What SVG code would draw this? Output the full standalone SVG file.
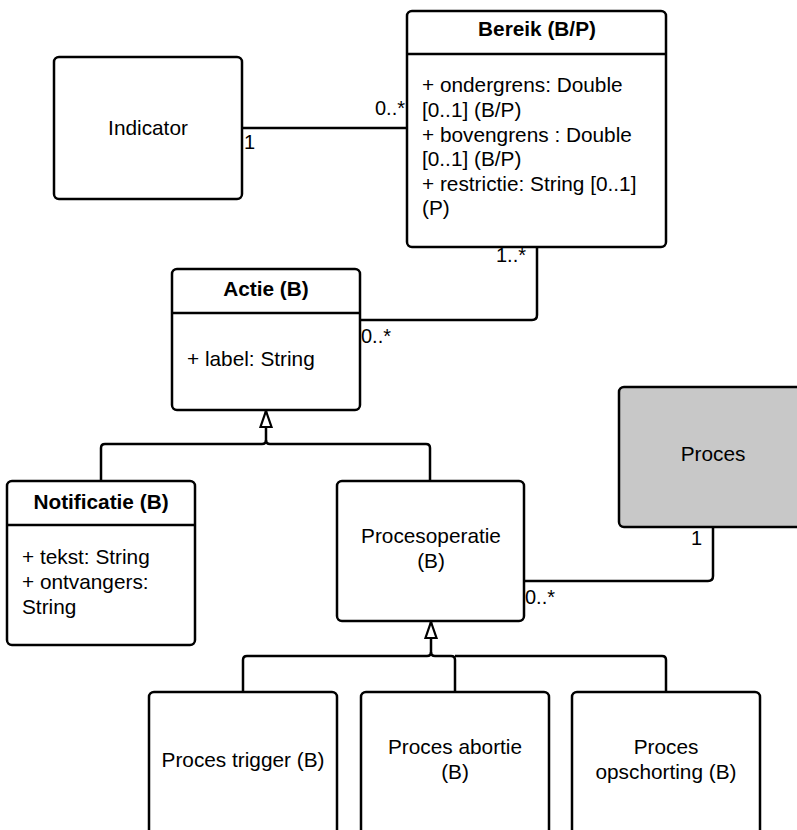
<svg xmlns="http://www.w3.org/2000/svg" width="797" height="830" viewBox="0 0 797 830">
  <style>
    .box { fill: #ffffff; stroke: #000000; stroke-width: 2.5; }
    .shaded { fill: #c8c8c8; }
    .div { stroke: #000000; stroke-width: 2.5; }
    .edge { fill: none; stroke: #000000; stroke-width: 2.5; stroke-linejoin: round; }
    .tri { fill: #ffffff; stroke: #000000; stroke-width: 2.2; }
    text { font-family: "Liberation Sans", Arial, sans-serif; font-size: 20.8px; fill: #000000; }
    .title { font-weight: bold; text-anchor: middle; }
    .c { text-anchor: middle; }
    .lbl { font-size: 20px; }
  </style>

  <!-- associations and generalizations -->
  <g id="connectors">
    <path class="edge" d="M242,128 H407"/>
    <path class="edge" d="M360,320 H532 Q537,320 537,315 V247"/>
    <path class="edge" d="M524,581 H708 Q713,581 713,576 V527"/>
    <path class="edge" d="M266,411 V440 Q266,444 262,444 H105 Q101,444 101,448 V481"/>
    <path class="edge" d="M266,440 Q266,444 270,444 H426 Q430,444 430,448 V481"/>
    <path class="tri" d="M266,411 L271.5,427 L260.5,427 Z"/>
    <path class="edge" d="M431,622 V652 Q431,656 427,656 H247 Q243,656 243,660 V692"/>
    <path class="edge" d="M431,652 Q431,656 435,656 H451 Q455,656 455,660 V692"/>
    <path class="edge" d="M455,656 H662 Q666,656 666,660 V692"/>
    <path class="tri" d="M431,622 L436.5,638 L425.5,638 Z"/>
    <text class="lbl" x="244" y="149">1</text>
    <text class="lbl" x="375" y="115">0..*</text>
    <text class="lbl" x="496" y="262">1..*</text>
    <text class="lbl" x="361" y="343">0..*</text>
    <text class="lbl" x="691" y="545">1</text>
    <text class="lbl" x="525" y="604">0..*</text>
  </g>

  <g id="indicator">
    <rect class="box" x="54" y="57" width="188" height="142" rx="5"/>
    <text class="c" x="148" y="135">Indicator</text>
  </g>

  <g id="bereik">
    <rect class="box" x="407" y="11" width="259" height="236" rx="5"/>
    <line class="div" x1="407" y1="54" x2="666" y2="54"/>
    <text class="title" x="537" y="36">Bereik (B/P)</text>
    <text x="422" y="92">+ ondergrens: Double</text>
    <text x="422" y="117">[0..1] (B/P)</text>
    <text x="422" y="142">+ bovengrens : Double</text>
    <text x="422" y="166">[0..1] (B/P)</text>
    <text x="422" y="191">+ restrictie: String [0..1]</text>
    <text x="422" y="215">(P)</text>
  </g>

  <g id="actie">
    <rect class="box" x="172" y="269" width="188" height="141" rx="5"/>
    <line class="div" x1="172" y1="313" x2="360" y2="313"/>
    <text class="title" x="266" y="296">Actie (B)</text>
    <text x="187" y="366">+ label: String</text>
  </g>

  <g id="notificatie">
    <rect class="box" x="7" y="481" width="188" height="164" rx="5"/>
    <line class="div" x1="7" y1="525" x2="195" y2="525"/>
    <text class="title" x="101" y="509">Notificatie (B)</text>
    <text x="22" y="564">+ tekst: String</text>
    <text x="22" y="589">+ ontvangers:</text>
    <text x="22" y="614">String</text>
  </g>

  <g id="procesoperatie">
    <rect class="box" x="337" y="481" width="187" height="140" rx="5"/>
    <text class="c" x="431" y="543">Procesoperatie</text>
    <text class="c" x="431" y="568">(B)</text>
  </g>

  <g id="proces">
    <rect class="box shaded" x="619" y="387" width="190" height="140" rx="5"/>
    <text class="c" x="713" y="461">Proces</text>
  </g>

  <g id="proces-trigger">
    <rect class="box" x="149" y="692" width="188" height="150" rx="5"/>
    <text class="c" x="243" y="767">Proces trigger (B)</text>
  </g>

  <g id="proces-abortie">
    <rect class="box" x="361" y="692" width="188" height="150" rx="5"/>
    <text class="c" x="455" y="754">Proces abortie</text>
    <text class="c" x="455" y="779">(B)</text>
  </g>

  <g id="proces-opschorting">
    <rect class="box" x="572" y="692" width="188" height="150" rx="5"/>
    <text class="c" x="666" y="754">Proces</text>
    <text class="c" x="666" y="779">opschorting (B)</text>
  </g>
</svg>
